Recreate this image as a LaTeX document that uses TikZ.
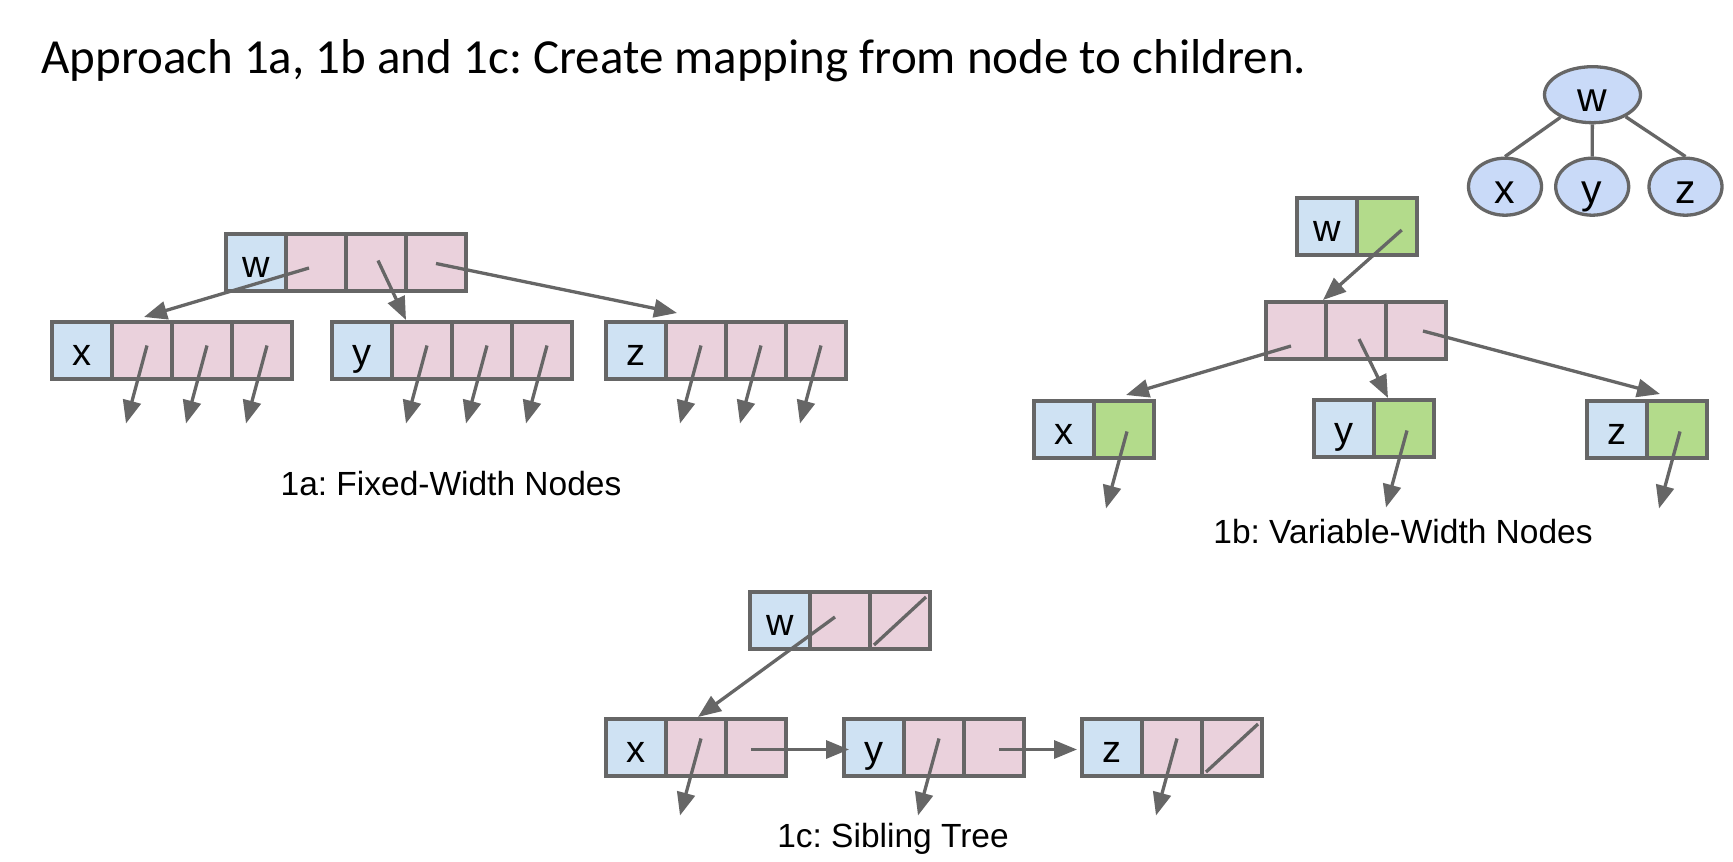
\documentclass[tikz,border=0pt]{standalone}
\usepackage{fontspec}
\setmainfont{Liberation Sans}
\newfontfamily\titlefont{Carlito}
\usetikzlibrary{arrows.meta,shapes.geometric}
\definecolor{cblue}{HTML}{CFE2F3}
\definecolor{cpink}{HTML}{EAD1DC}
\definecolor{cgreen}{HTML}{B3DB8B}
\definecolor{tblue}{HTML}{C9DAF8}
\definecolor{lgray}{HTML}{666666}
\frenchspacing
\begin{document}
\begin{tikzpicture}[x=1pt,y=-1pt,
  cell/.style={draw=lgray,line width=3.3pt,minimum width=60pt,minimum height=57pt,
    inner sep=0pt,outer sep=0pt,anchor=north west,
    font=\fontsize{38}{42}\selectfont,text height=29pt,text depth=0pt},
  bc/.style={cell,fill=cblue},
  pc/.style={cell,fill=cpink},
  gc/.style={cell,fill=cgreen},
  arr/.style={draw=lgray,line width=3.3pt,-{Triangle[length=23pt,width=18pt]}},
  nul/.style={draw=lgray,line width=3.3pt},
  edge/.style={draw=lgray,line width=3.3pt},
  tnode/.style={ellipse,draw=lgray,fill=tblue,line width=3.3pt,inner sep=0pt,
    minimum width=73pt,minimum height=57pt,
    font=\fontsize{41}{44}\selectfont,text height=33pt,text depth=0pt},
  lbl/.style={anchor=base,inner sep=0pt,font=\fontsize{33.5}{40}\selectfont}]
\useasboundingbox (0,0) rectangle (1733,862);
\fill[white] (0,0) rectangle (1733,862);

% title
\node[anchor=base west,inner sep=0pt,font=\titlefont\fontsize{49}{58}\selectfont] (title) at (41,73)
  {Approach 1a, 1b and 1c: Create mapping from node to children.};

% tree
\node[tnode,minimum width=96pt,minimum height=56pt] (tw) at (1592.5,94.7) {w};
\node[tnode] (tx) at (1505,186.7) {x};
\node[tnode] (ty) at (1592.2,186.7) {y};
\node[tnode] (tz) at (1685.5,186.7) {z};
\draw[edge] (tw) -- (tx.north);
\draw[edge] (tw) -- (ty.north);
\draw[edge] (tw) -- (tz.north);

% 1a
\node[bc] (aw0) at (226,234) {w};
\node[pc] (aw1) at (aw0.north east) {};
\node[pc] (aw2) at (aw1.north east) {};
\node[pc] (aw3) at (aw2.north east) {};
\node[bc] (ax0) at (52,322) {x};
\node[pc] (ax1) at (ax0.north east) {};
\node[pc] (ax2) at (ax1.north east) {};
\node[pc] (ax3) at (ax2.north east) {};
\node[bc] (ay0) at (332,322) {y};
\node[pc] (ay1) at (ay0.north east) {};
\node[pc] (ay2) at (ay1.north east) {};
\node[pc] (ay3) at (ay2.north east) {};
\node[bc] (az0) at (606,322) {z};
\node[pc] (az1) at (az0.north east) {};
\node[pc] (az2) at (az1.north east) {};
\node[pc] (az3) at (az2.north east) {};
\draw[arr] ([shift={(-7,5.5)}]aw1.center) -- ([shift={(2,-5)}]ax1.north);
\draw[arr] ([shift={(2,-2)}]aw2.center) -- ([shift={(14,-2)}]ay1.north west);
\draw[arr] ([shift={(0,1)}]aw3.center) -- ([shift={(11,-9)}]az1.north west);
\foreach \c in {ax1,ax2,ax3,ay1,ay2,ay3,az1,az2,az3}
  \draw[arr] ([shift={(5,-5)}]\c.center) -- ++(-21,78);
\node[lbl] (la) at (451,495) {1a: Fixed-Width Nodes};

% 1b
\node[bc] (bw0) at (1297,198) {w};
\node[gc] (bw1) at (bw0.north east) {};
\node[pc] (bm0) at (1266,302) {};
\node[pc] (bm1) at (bm0.north east) {};
\node[pc] (bm2) at (bm1.north east) {};
\node[bc] (bx0) at (1034,401) {x};
\node[gc] (bx1) at (bx0.north east) {};
\node[bc] (by0) at (1314,400) {y};
\node[gc] (by1) at (by0.north east) {};
\node[bc] (bz0) at (1587,401) {z};
\node[gc] (bz1) at (bz0.north east) {};
\draw[arr] ([shift={(14.7,3.5)}]bw1.center) -- ([shift={(-3,-2)}]bm0.north east);
\draw[arr] ([shift={(-5,15.5)}]bm0.center) -- ([shift={(2,-6)}]bx1.north);
\draw[arr] ([shift={(3,8.5)}]bm1.center) -- ([shift={(14,-2)}]by1.north west);
\draw[arr] ([shift={(7,0.5)}]bm2.center) -- ([shift={(-17,-7)}]bz1.north);
\foreach \c in {bx1,by1,bz1}
  \draw[arr] ([shift={(3,2)}]\c.center) -- ++(-21,77);
\node[lbl] (lb) at (1403,543) {1b: Variable-Width Nodes};

% 1c
\node[bc] (cw0) at (750,592) {w};
\node[pc] (cw1) at (cw0.north east) {};
\node[pc] (cw2) at (cw1.north east) {};
\node[bc] (cx0) at (606,719) {x};
\node[pc] (cx1) at (cx0.north east) {};
\node[pc] (cx2) at (cx1.north east) {};
\node[bc] (cy0) at (844,719) {y};
\node[pc] (cy1) at (cy0.north east) {};
\node[pc] (cy2) at (cy1.north east) {};
\node[bc] (cz0) at (1082,719) {z};
\node[pc] (cz1) at (cz0.north east) {};
\node[pc] (cz2) at (cz1.north east) {};
\draw[nul] ([shift={(4,-4)}]cw2.south west) -- ([shift={(-4,5)}]cw2.north east);
\draw[nul] ([shift={(4,-4)}]cz2.south west) -- ([shift={(-4,5)}]cz2.north east);
\draw[arr] ([shift={(-5,-3.5)}]cw1.center) -- ([shift={(2,-2)}]cx1.north);
\draw[arr] ([shift={(-5,2)}]cx2.center) -- ([shift={(5,2)}]cy0.west);
\draw[arr] ([shift={(5,2)}]cy2.center) -- ([shift={(-5,2)}]cz0.west);
\foreach \c in {cx1,cy1,cz1}
  \draw[arr] ([shift={(5,-9)}]\c.center) -- ++(-21,77);
\node[lbl] (lc) at (893,847) {1c: Sibling Tree};
\end{tikzpicture}
\end{document}
